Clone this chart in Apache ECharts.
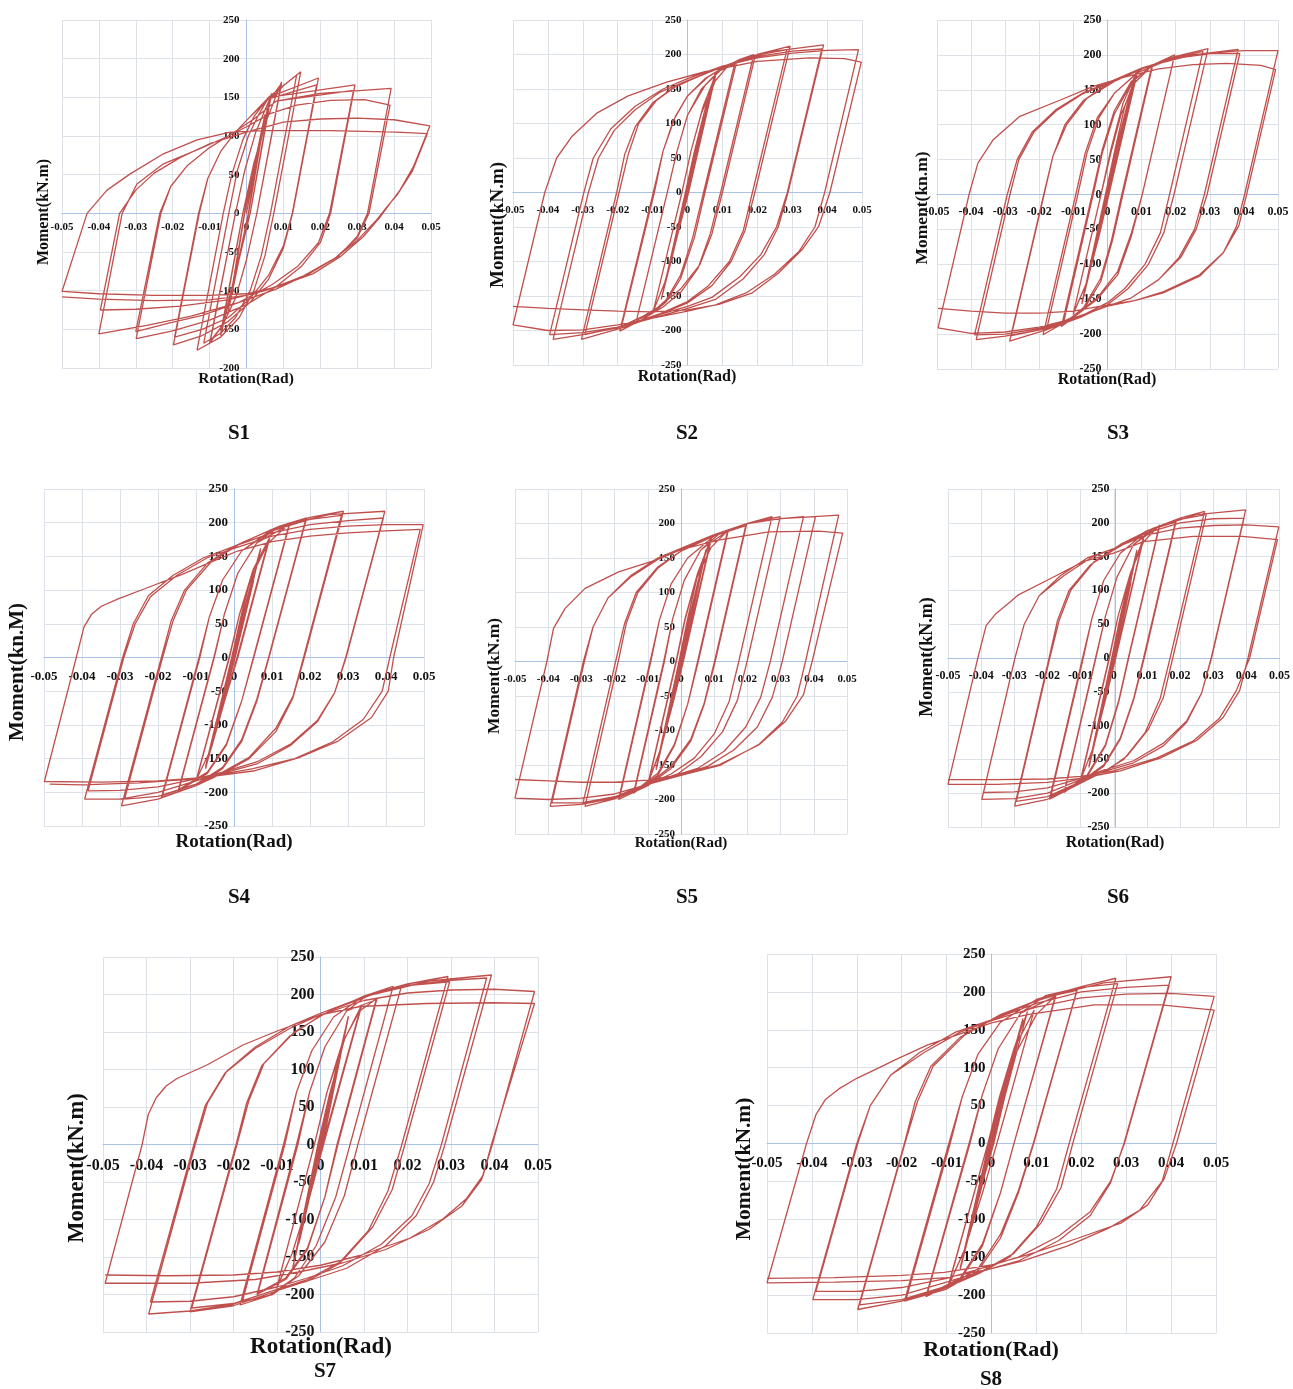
<!DOCTYPE html>
<html><head><meta charset="utf-8">
<script src="https://cdn.jsdelivr.net/npm/echarts@6/dist/echarts.min.js"></script>
<style>html,body{margin:0;padding:0;background:#fff}#c{width:1293px;height:1389px}</style>
</head><body><div id="c"></div>
<script>
// ---------- DATA (rotation in mrad, moment in kN.m), each a continuous test path ----------
const panelNames = ['S1','S2','S3','S4','S5','S6','S7','S8'];
const yAxisNames = ['Moment(kN.m)','Moment(kN.m)','Moment(kn.m)','Moment(kn.M)','Moment(kN.m)','Moment(kN.m)','Moment(kN.m)','Moment(kN.m)'];
const xAxisName = 'Rotation(Rad)';
const yMinValues = [-200,-250,-250,-250,-250,-250,-250,-250];
const xTickRange = [-0.05, 0.05, 0.01];
const yTickMaxStep = [250, 50];

const s1Path = [
0,0, 3.5,90, 0.5,0, -3.5,-90, -0.5,0, 5,125, 0.5,-2, -5,-128, -0.5,2, 5,128, 0.5,-2, -5,-128, -0.5,0, 6.8,155, 1,0, -7,-158, -1,0, 6.5,152, 1,0, -7,-155, -1,0,
2,65, 5,115, 9.5,170, 2.8,0, 0,-60, -3,-110, -6.5,-145, -9.8,-165,
-3,0, -0.5,55, 2.5,105, 6,145, 9.5,168, 2.8,0, 0,-60, -3,-110, -6.5,-145, -10,-168,
-3,0, -0.5,55, 2.5,105, 6,145, 10,165, 14.7,183, 7.4,0, 5,-55, 2,-100, -2,-135, -7,-160, -13.4,-177,
-6.3,0, -4,50, -1,95, 2,125, 6,150, 13.6,179, 6.5,0, 4,-55, 1,-100, -3,-135, -7,-155, -11.6,-168,
-4.8,0, -2.5,55, 0.5,100, 3,125, 6,150, 19.5,175, 12.5,0, 10,-45, 6,-85, 1,-115, -5,-140, -12,-158, -19.8,-170,
-12.8,0, -10.5,45, -7,80, -3,105, 1,125, 6,148, 19,166, 12.4,0, 10,-42, 6,-80, 1,-110, -5,-135, -12,-150, -19.5,-160,
-13,0, -10.5,45, -7,80, -3,105, 1,125, 6,150, 29.4,166, 22.8,0, 20,-38, 15,-68, 8,-95, 0,-118, -10,-138, -20,-152, -29.9,-162,
-23.2,0, -20.5,35, -16,62, -10,85, -4,103, 2,122, 8,145, 29,159, 22.5,0, 19.5,-38, 14,-68, 7,-92, -2,-115, -12,-132, -21,-142, -30,-153,
-23.5,0, -20.5,35, -16,62, -10,85, -4,103, 2,122, 8,145, 20,155, 39.2,161.5, 32.8,0, 30,-30, 25,-55, 17,-78, 8,-98, -2,-115, -15,-133, -27,-145, -40,-156,
-33.7,0, -29.7,38, -22.5,64, -13.4,82, -5.3,99, 0,112, 6.4,129, 13.6,140, 22.7,146, 32,147, 38.9,140, 33.2,0, 30,-32, 24,-58, 15,-82, 5,-100, -5,-112, -18,-120, -30,-124, -39.6,-125,
-34.4,0, -30,30, -25,52, -18,72, -10,90, 0,105, 10,118, 20,122, 30,123, 40,121, 49.7,113, 45.2,60, 41.6,30, 38.9,13, 36.2,-5, 31.7,-30, 25.4,-56, 18.1,-78, 8.2,-95, 0,-104, -10,-106, -25,-106, -40,-104, -50,-101,
-43.2,0, -37.8,30, -31.5,51, -22.5,77, -13.4,95, -4.4,105, 4.6,107, 22.7,107, 40.7,105, 49,103, 45,55, 41,25, 38,8, 35,-10, 30,-35, 24,-58, 17,-78, 8,-95, 0,-106, -10,-112, -25,-113, -40,-111, -50,-108
];

const s2Path = [
0,0, 3.8,80, 0,-2, -3.8,-80, 0,2, 5.2,110, 0.2,-2, -5.2,-108, -0.2,2, 5.2,110, 0,-3, -5.2,-110, -0.5,0, 2,50, 7.5,158, 0.3,0, -2.5,-55, -7.5,-155, -0.6,0, 2,55, 7.5,160, 0.3,0, -2.5,-55, -7.5,-155, -0.6,0,
2,60, 5,120, 8,174, -0.3,0, -3,-65, -6.5,-130, -9.8,-172,
-1.6,0, 1,60, 4.5,125, 8.2,172, 0,0, -3,-65, -6.5,-130, -9.8,-172,
-1.6,0, 1,60, 4,115, 8,162, 11,180, 14,188, 5,0, 2,-65, -2,-125, -6,-158, -10,-175, -14.6,-185,
-5.8,0, -3,60, 0,112, 4,150, 9,176, 13.5,186, 4.6,0, 1.5,-65, -2,-120, -6,-155, -10,-173, -14.6,-185,
-5.8,0, -3,60, 0,112, 5,155, 10,180, 15,193, 19,200, 9.5,0, 6.5,-60, 3,-110, -2,-145, -7,-166, -13,-184, -19.4,-201,
-9.8,0, -7,60, -4,105, 0,140, 6,168, 12,186, 19.2,194, 10,0, 7,-60, 3.5,-105, -2,-140, -8,-165, -13,-180, -18.9,-194,
-9.5,0, -7,60, -3.5,110, 0,140, 5,165, 12,186, 20,200, 29.4,212, 19.3,0, 16.5,-55, 12.5,-100, 7,-135, 0,-160, -8,-177, -18,-195, -30.4,-213,
-20.3,0, -18,55, -15,95, -10,130, -4,152, 3,168, 12,186, 20,199, 28.5,207, 18.6,0, 16,-55, 12,-100, 6,-135, 0,-158, -8,-176, -18,-193, -29.4,-206,
-19.6,0, -17,55, -14,100, -9,133, -3,155, 5,172, 15,192, 25,205, 39,214, 28.8,0, 26,-50, 22,-90, 16,-125, 8,-155, 0,-168, -10,-182, -20,-196, -30,-206, -38.5,-213,
-28.4,0, -25.5,50, -21,90, -15,120, -8,145, 0,162, 10,182, 20,197, 30,205, 38.5,208, 28.6,0, 25.5,-50, 21,-90, 15,-122, 7,-152, 0,-165, -10,-180, -20,-195, -30,-203, -39.5,-206,
-29.7,0, -27,50, -22,92, -15,125, -7,150, 0,165, 10,183, 20,195, 30,202, 40,206, 49,207, 39.3,0, 36.5,-50, 32,-85, 25,-118, 17,-145, 8,-163, 0,-172, -10,-182, -20,-192, -30,-199, -40,-200, -50,-192,
-40.9,0, -37.5,50, -33,82, -26,115, -17,140, -6,160, 5,175, 20,190, 35,195, 45,194, 49.8,189, 40.8,0, 37.6,-49, 32.8,-83, 26,-117, 18.4,-146, 9,-162, 0,-170, -10,-173, -20,-172, -30,-170, -40,-168, -50,-165
];

const s3Path = [
0,0, 3.8,82, 0,-2, -3.8,-80, 0,2, 5.2,112, 0.2,-2, -5.2,-110, -0.2,2, 5.2,112, 0,-3, -5.2,-110, -0.5,0, 2,50, 7.5,160, 0.3,0, -2.5,-55, -7.5,-155, -0.6,0, 2,55, 7.5,162, 0.3,0, -2.5,-55, -7.5,-157, -0.6,0,
2,60, 5,125, 8.9,178, 0.4,0, -2.5,-60, -6,-125, -10.1,-172,
-1.9,0, 1,65, 4.5,130, 8.5,175, 0.2,0, -2.5,-60, -6,-125, -10,-170,
-1.9,0, 1,60, 4,115, 8,160, 13.3,186, 4.5,0, 1.5,-65, -2,-125, -7,-165, -13.5,-189,
-4.5,0, -1.5,65, 2,120, 7,162, 13,184, 4.2,0, 1.2,-65, -2,-120, -7,-162, -13,-186,
-4.2,0, -1.5,60, 2,115, 7,160, 13,185, 19.7,200, 10.2,0, 7,-60, 3,-115, -3,-150, -10,-176, -18.9,-201,
-9.3,0, -6.5,60, -3,110, 2,145, 9,175, 19.5,196, 10.2,0, 7,-55, 3,-110, -3,-148, -10,-175, -17.9,-194,
-8.7,0, -6,60, -2.5,110, 2,145, 10,180, 20,198, 29.5,209, 19.5,0, 16.5,-55, 12,-100, 6,-135, 0,-158, -8,-176, -18,-194, -28.7,-210,
-18.7,0, -16,55, -12.5,100, -7,135, 0,158, 10,180, 20,196, 28,205, 18.2,0, 15.5,-55, 11,-100, 5,-135, 0,-155, -8,-175, -18,-192, -28.2,-202,
-18.6,0, -16,55, -12,100, -6,138, 2,162, 12,184, 25,200, 38.3,208, 28.4,0, 25.5,-50, 21,-90, 15,-122, 7,-148, 0,-160, -10,-178, -20,-194, -30,-203, -38.5,-208,
-28.6,0, -26,50, -21.5,90, -15,120, -7,145, 0,158, 10,180, 20,195, 30,202, 38.8,202, 29.2,0, 26,-50, 21.5,-90, 15,-122, 7,-148, 0,-160, -10,-177, -20,-192, -30,-200, -39,-201,
-29.4,0, -26.5,50, -22,90, -15,122, -7,146, 0,160, 10,181, 20,196, 30,203, 40,206, 50,206, 40.2,0, 37.8,-46, 33.9,-84, 27,-117, 16.3,-141, 8,-152, 0,-160, -10,-178, -20,-190, -30,-197, -40,-199, -49.7,-191,
-40.6,0, -38,45, -33.6,78, -25.7,112, -14,135, -4.2,155, 5,168, 15,180, 25,186, 35,188, 45,185, 49.3,179, 40.8,0, 38.5,-45, 34,-83, 27,-115, 16,-140, 8,-152, 0,-158, -10,-167, -20,-170, -30,-170, -40,-167, -49.7,-163
];

const s4Path = [
0,0, 3.8,85, 0,-2, -3.8,-85, 0,2, 5.2,115, 0.2,-2, -5.2,-115, -0.2,2, 5.2,118, 0,-3, -5.2,-118, -0.5,0, 2,55, 7,160, 0.3,0, -2.5,-60, -7.5,-162, -0.6,0, 2,58, 7,162, 0.3,0, -2.5,-60, -7.5,-165, -0.6,0,
2,65, 5,130, 9.4,177, 1,0, -2.5,-65, -6,-135, -9.9,-181,
-1.3,0, 1.5,65, 5,130, 9.2,176, 0.8,0, -2.5,-65, -6,-135, -9.8,-180,
-1.2,0, 1.5,65, 5,125, 9,170, 14.7,199, 5.2,0, 2,-65, -2,-130, -7,-172, -14.7,-198,
-5.3,0, -2.5,65, 1,125, 6,170, 14.5,197, 5.1,0, 2,-65, -2,-128, -7,-170, -14.5,-196,
-5.2,0, -2.5,65, 1,125, 6,170, 12,195, 19.1,207, 9.2,0, 6,-65, 2,-125, -3,-165, -10,-190, -19.1,-208,
-9.2,0, -6.5,60, -3,115, 2,158, 10,188, 18.8,203, 9.1,0, 6,-62, 2,-122, -3,-163, -10,-188, -18.8,-205,
-9,0, -6.5,60, -3,115, 2,158, 10,190, 20,208, 28.8,217, 18.5,0, 15.5,-60, 11,-110, 4,-150, -3,-172, -10,-190, -20,-210, -29.6,-220,
-19.1,0, -16.5,55, -13,100, -7,140, 0,165, 10,190, 20,205, 28.3,211, 18.3,0, 15.5,-58, 11,-105, 4,-148, -3,-170, -10,-188, -20,-206, -28.8,-210,
-18.8,0, -16,55, -12.5,100, -6,142, 2,170, 12,195, 25,212, 39.7,217, 29.4,0, 26.5,-52, 22,-95, 15,-130, 6,-158, -3,-172, -10,-183, -20,-200, -30,-210, -39.3,-210,
-29.3,0, -26.5,50, -22.5,92, -16,122, -8,148, 0,165, 10,185, 20,197, 30,203, 39.3,207, 29.5,0, 26.5,-52, 22,-93, 15,-128, 6,-155, -3,-170, -10,-180, -20,-192, -30,-197, -38.4,-198,
-29,0, -26,50, -22,90, -15,122, -7,148, 0,162, 10,180, 20,190, 30,195, 40,197, 49.8,197, 42,0, 40.6,-50, 36.2,-89, 27.4,-124, 16.9,-149, 5.5,-168, -7.7,-178, -20,-183, -35,-185, -49.9,-184,
-41.5,0, -39.5,45, -37.5,64, -34.9,76, -30.5,87, -23.5,102, -13.8,123, -5.9,142, 1,158, 10,172, 20,180, 30,185, 40,188, 49,190, 41,0, 39,-50, 34,-92, 26,-125, 16,-150, 5,-165, -10,-180, -25,-186, -40,-189, -48.5,-188
];

const s5Path = [
0,0, 3.8,80, 0,-2, -3.8,-80, 0,2, 5.2,110, 0.2,-2, -5.2,-108, -0.2,2, 5.2,112, 0,-3, -5.2,-110, -0.5,0, 2,52, 7.5,160, 0.3,0, -2.5,-55, -7.5,-155, -0.6,0, 2,55, 7.5,162, 0.3,0, -2.5,-55, -7.5,-157, -0.6,0,
2,62, 5,125, 9.3,181, 0.7,0, -2.5,-62, -6,-125, -9.8,-174,
-1.5,0, 1.2,62, 5,128, 9,178, 0.5,0, -2.5,-62, -6,-125, -9.6,-172,
-1.4,0, 1.2,60, 4.5,118, 9,165, 14.3,191, 5.2,0, 2,-62, -2,-122, -7,-165, -14.3,-191,
-5.2,0, -2.5,62, 1,118, 6,162, 14,189, 5,0, 2,-62, -2,-120, -7,-162, -14,-188,
-5,0, -2.5,62, 1,118, 6,162, 12,187, 19.8,200, 10.3,0, 7,-62, 3,-115, -3,-155, -10,-180, -18.8,-200,
-9.3,0, -6.5,60, -3,112, 2,150, 10,182, 19.5,197, 10.1,0, 7,-60, 3,-112, -3,-152, -10,-178, -18.5,-197,
-9.1,0, -6.5,60, -3,112, 2,150, 10,182, 20,200, 27.4,210, 17.4,0, 14.5,-58, 10,-105, 4,-140, -3,-163, -10,-178, -20,-199, -28.9,-210,
-18.9,0, -16.5,55, -13,100, -7,135, 0,160, 10,182, 20,200, 29.9,210, 19.9,0, 17,-56, 12.5,-102, 6,-138, -1,-163, -10,-178, -20,-196, -29.5,-205,
-19.7,0, -17,55, -13.5,100, -7,137, 0,160, 10,182, 20,200, 30,207, 36.9,210, 26.9,0, 24,-52, 19.5,-95, 13,-130, 5,-155, -3,-167, -10,-178, -20,-198, -30,-207, -39.4,-210,
-29.4,0, -26.5,50, -22,92, -15,123, -7,148, 0,162, 10,182, 20,200, 30,207, 40.5,210, 30.5,0, 27.5,-52, 23,-95, 16,-128, 8,-152, 0,-164, -10,-177, -20,-196, -30,-205, -38.9,-205,
-29.1,0, -26.5,50, -22,92, -15,125, -7,150, 0,164, 10,184, 20,200, 30,207, 40,210, 47.5,212, 37.5,0, 35,-50, 30.5,-88, 23.5,-120, 12,-150, 0,-165, -10,-178, -20,-192, -30,-198, -40,-200, -50,-198,
-40.4,0, -38.4,48, -34.9,77, -28.9,106, -18.8,130, -8.8,145, 0,162, 11.3,176, 26.4,188, 41.5,189, 48.7,186, 39.5,0, 36.9,-48, 31.4,-87, 23.4,-121, 11.3,-150, 0,-164, -10,-172, -20,-175, -30,-175, -40,-173, -50,-171
];

const s6Path = [
0,0, 3.8,82, 0,-2, -3.8,-82, 0,2, 5.2,112, 0.2,-2, -5.2,-112, -0.2,2, 5.2,115, 0,-3, -5.2,-115, -0.5,0, 2,55, 7,158, 0.3,0, -2.5,-58, -7.5,-160, -0.6,0, 2,58, 7,160, 0.3,0, -2.5,-58, -7.5,-162, -0.6,0,
2,62, 5,125, 9,177, 0.6,0, -2.5,-62, -6,-130, -10,-180,
-1.4,0, 1.3,62, 5,125, 8.8,175, 0.5,0, -2.5,-62, -6,-130, -9.8,-178,
-1.3,0, 1.3,62, 5,125, 9,172, 13.9,197, 4.5,0, 1.5,-65, -2.5,-130, -8,-175, -15,-199,
-5.5,0, -2.5,62, 1,120, 6,168, 13.7,195, 4.4,0, 1.5,-63, -2.5,-128, -8,-173, -14.8,-197,
-5.4,0, -2.5,62, 1,120, 6,168, 12,192, 18.9,204, 9.2,0, 6,-62, 2,-120, -3,-160, -10,-185, -19.4,-209,
-9.4,0, -6.5,60, -3,115, 2,155, 10,188, 18.6,201, 9,0, 6,-60, 2,-118, -3,-158, -10,-183, -19,-205,
-9.2,0, -6.5,60, -3,115, 2,155, 10,188, 20,207, 27.4,217, 17,0, 14,-60, 9.5,-110, 3,-150, -3,-168, -10,-185, -20,-209, -29.9,-219,
-19.5,0, -17,55, -13.5,100, -7,138, 0,160, 10,188, 20,205, 27.9,212, 17.8,0, 15,-58, 10.5,-105, 4,-145, -2,-166, -10,-183, -20,-205, -29.4,-212,
-19.3,0, -16.5,55, -13,100, -6,142, 2,168, 12,192, 25,212, 39.8,219, 29.4,0, 26.5,-52, 22,-95, 15,-130, 6,-155, -3,-168, -10,-180, -20,-200, -30,-208, -39.8,-209,
-29.8,0, -27,50, -22.5,92, -16,122, -8,148, 0,162, 10,185, 20,200, 30,206, 39.3,207, 29.5,0, 26.5,-52, 22,-93, 15,-126, 6,-152, -3,-166, -10,-178, -20,-192, -30,-198, -39.3,-199,
-29.8,0, -27,50, -22.5,92, -15,122, -7,148, 0,162, 10,182, 20,192, 30,196, 40,197, 49.8,194, 40.5,0, 38,-48, 33,-88, 25,-122, 14,-148, 2,-167, -10,-178, -20,-184, -35,-187, -50,-187,
-41,0, -38.5,48, -35.5,66, -32,80, -28.9,93, -18.9,118, -9,143, 0,155, 9,172, 23.9,180, 38.8,180, 49.4,175, 41,0, 36.9,-49, 31.9,-89, 23.9,-123, 12.9,-148, 0,-167, -10,-175, -20,-179, -35,-180, -50,-180
];

const s7Path = [
0,0, 3.5,95, 0,-2, -3.5,-95, 0,2, 4.8,128, 0.2,-2, -4.8,-128, -0.2,2, 4.8,130, 0,-3, -5,-132, -0.5,0, 2,60, 6.4,171, 0.5,0, -2.5,-65, -6.5,-168, -0.6,0, 2,62, 6.4,170, 0.5,0, -2.5,-65, -6.5,-168, -0.6,0,
2,65, 5.5,140, 9.5,186, 0.7,0, -2.5,-70, -6.5,-145, -10.1,-192,
-1.4,0, 1.5,70, 5.5,140, 9.3,184, 0.5,0, -2.5,-70, -6.5,-145, -10,-190,
-1.4,0, 1.5,70, 5,135, 9,178, 13,195, 4,0, 1,-70, -3,-140, -8,-180, -14.6,-200,
-5.5,0, -2.5,70, 1,130, 6,178, 12.8,193, 3.8,0, 1,-70, -3,-138, -8,-178, -14.4,-198,
-5.2,0, -2.5,70, 1,130, 6,178, 11,200, 16.7,211, 6.8,0, 3.5,-70, -1,-135, -6,-178, -12,-202, -18.5,-214,
-8.5,0, -5.5,70, -2,125, 3,170, 10,198, 18.5,209, 8.6,0, 5.5,-68, 1,-130, -5,-175, -11,-200, -18,-210,
-8.2,0, -5.5,70, -2,125, 3,170, 10,198, 20,214, 29.3,224, 18.7,0, 15.5,-62, 11,-115, 4,-160, -3,-182, -10,-195, -20,-215, -30,-223,
-19.4,0, -17,55, -13.5,105, -7,145, 0,172, 10,198, 20,212, 29.7,217, 19.4,0, 16.5,-60, 12,-110, 5,-155, -3,-180, -10,-193, -20,-212, -29.6,-218,
-19.2,0, -16.5,58, -13,108, -6,150, 2,178, 12,200, 25,218, 39.3,226, 28.6,0, 26,-50, 22,-95, 15,-135, 6,-165, -3,-182, -10,-193, -20,-213, -30,-222, -39.5,-226,
-28.8,0, -26,55, -21.5,98, -15,130, -7,158, 0,175, 10,197, 20,212, 30,219, 38.2,222, 27.8,0, 25,-52, 21,-95, 14,-133, 5,-162, -3,-178, -10,-190, -20,-203, -30,-209, -39.1,-210,
-29.1,0, -26.5,52, -22,95, -15,128, -7,155, 0,173, 10,192, 20,202, 30,206, 40,207, 49.2,204, 39.5,0, 37,-47, 32.5,-82, 25,-113, 15,-140, 5,-158, -5,-170, -15,-180, -30,-185, -49.5,-185,
-41,0, -39.6,40, -37.8,62, -35.5,78, -33,88, -26.1,106, -17.7,133, -10.1,151, 0,173, 9.1,184, 24.4,188, 39.7,189, 49.2,188, 39.3,0, 37.4,-41, 33.6,-72, 28.2,-99, 20.5,-125, 9.1,-148, 0,-161, -10,-170, -20,-174, -35,-175, -49.5,-174
];

const s8Path = [
0,0, 3.5,85, 0,-2, -3.5,-88, 0,2, 5,118, 0.2,-2, -5,-120, -0.2,2, 5,120, 0,-3, -5,-122, -0.5,0, 2,55, 7,163, 0.5,0, -2.5,-62, -7,-165, -0.6,0, 2,58, 7,165, 0.5,0, -2.5,-62, -7,-167, -0.6,0,
2,62, 5,125, 9.5,176, 1.2,0, -2,-65, -6,-140, -9.8,-191,
-0.8,0, 1.8,62, 5,125, 8,174, 0.2,0, -2.5,-65, -6,-140, -9.6,-188,
-0.8,0, 2,62, 5.5,120, 10,170, 14.4,196, 5,0, 2,-65, -2,-135, -7,-180, -14.6,-202,
-5,0, -2,65, 1.5,125, 6.5,172, 14.2,194, 5,0, 2,-65, -2,-132, -7,-178, -14.4,-200,
-4.8,0, -2,65, 1.5,125, 6.5,172, 12,195, 19.2,205, 9.4,0, 6,-65, 2,-125, -3,-168, -10,-192, -19.4,-208,
-9.5,0, -6.5,62, -3,118, 2,160, 10,190, 19,202, 9.3,0, 6,-62, 2,-120, -3,-165, -10,-190, -19,-205,
-9.2,0, -6.5,62, -3,118, 2,160, 10,190, 20,207, 27.7,218, 17.3,0, 14.5,-60, 10,-110, 4,-150, -3,-172, -10,-190, -20,-208, -29.8,-219,
-19.4,0, -17,55, -13.5,102, -7,140, 0,163, 10,188, 20,206, 28.1,211, 18.1,0, 15.5,-58, 11,-105, 5,-145, -2,-168, -10,-188, -20,-206, -29.4,-213,
-19.3,0, -16.5,55, -13,102, -6,143, 2,170, 12,193, 25,212, 40,220, 29.5,0, 26.5,-52, 22,-95, 15,-128, 6,-155, -3,-170, -10,-183, -20,-200, -30,-206, -39.8,-206,
-30,0, -27,50, -22.5,90, -16,120, -8,147, 0,163, 10,185, 20,200, 30,206, 39.6,209, 29.6,0, 26.5,-50, 22,-90, 15,-122, 6,-150, -3,-166, -10,-178, -20,-190, -30,-195, -39.1,-195,
-29.8,0, -27,50, -22.5,90, -15,120, -7,147, 0,162, 10,180, 20,192, 30,197, 40,198, 49.6,194, 40.4,0, 38,-50, 33,-88, 26,-112, 17,-135, 7,-155, 0,-165, -10,-177, -20,-181, -35,-183, -50,-184,
-41.2,0, -39.1,38, -37,58, -34,72, -30,86, -25,100, -21.6,110, -14.2,130, -6.8,145, 0,159, 8,170, 22.9,183, 37.8,183, 49.6,176, 41.2,0, 38.5,-46, 34.8,-81, 28.8,-105, 19.2,-125, 8,-147, 0,-160, -10.5,-170, -20,-174, -35,-177, -50,-178
];

const panelPaths = [s1Path, s2Path, s3Path, s4Path, s5Path, s6Path, s7Path, s8Path];

// ---------- LAYOUT (pixels, font sizes) ----------
const layout = [
  {g:[62,20,369,348],  tf:11, xm:8,  ym:7, xn:[246,379,15.5], yn:[44,212,16],   t:[239,434]},
  {g:[513,20,349,345], tf:11, xm:12, ym:6, xn:[687,377,16],   yn:[498,225,19],  t:[687,434]},
  {g:[937,20,341,349], tf:12, xm:11, ym:6, xn:[1107,380,16],  yn:[922,208,17.5],t:[1118,434]},
  {g:[44,489,380,337], tf:13, xm:13, ym:6, xn:[234,842,19],   yn:[18,672,21],   t:[239,898]},
  {g:[515,489,332,345],tf:11, xm:12, ym:6, xn:[681,843,15],   yn:[494,676,17.5],t:[687,898]},
  {g:[948,489,335,338],tf:12, xm:12, ym:6, xn:[1115,843,16],  yn:[927,657,18],  t:[1118,898]},
  {g:[103,957,435,375],tf:16, xm:13, ym:6, xn:[321,1347,23],  yn:[77,1168,22.5],t:[325,1372]},
  {g:[767,954,449,379],tf:15, xm:12, ym:6, xn:[991,1350,22],  yn:[744,1169,21.5],t:[991,1380]}
];

const FONT = '"Times New Roman","Liberation Serif",serif';
const LINE_COLOR = '#c0504d';
const GRID_COLOR = '#dde2e8';
const AXIS_COLOR = '#a9c1e2';

function toPairs(flat){
  const out = [];
  for (let i = 0; i + 1 < flat.length; i += 2) out.push([flat[i] / 1000, flat[i + 1]]);
  return out;
}
function txt(x, y, s, size, rot){
  return {type:'text', x:x, y:y, rotation: rot || 0, silent:true, z:10,
    style:{text:s, fill:'#111', font:'bold ' + size + 'px ' + FONT,
      fontSize:size, fontWeight:'bold', fontFamily:FONT,
      align:'center', verticalAlign:'middle', textAlign:'center', textVerticalAlign:'middle'}};
}

const grids = [], xAxes = [], yAxes = [], series = [], graphics = [];
layout.forEach((L, i) => {
  const W = L.g[2], H = L.g[3];
  const ymin = yMinValues[i], ymax = yTickMaxStep[0];
  const zeroFromBottom = H * (0 - ymin) / (ymax - ymin);
  const zeroFromLeft = W * (0 - xTickRange[0]) / (xTickRange[1] - xTickRange[0]);
  grids.push({left:L.g[0], top:L.g[1], width:W, height:H, containLabel:false});
  const lbl = {fontFamily:FONT, fontWeight:'bold', fontSize:L.tf, color:'#111', showMinLabel:true, showMaxLabel:true};
  xAxes.push({type:'value', gridIndex:i, position:'bottom', offset:-zeroFromBottom,
    min:xTickRange[0], max:xTickRange[1], interval:xTickRange[2],
    axisLine:{show:true, onZero:false, lineStyle:{color:AXIS_COLOR, width:1}},
    axisTick:{show:false},
    axisLabel:Object.assign({margin:L.xm, formatter:v => String(Math.round(v * 100) / 100)}, lbl),
    splitLine:{show:true, lineStyle:{color:GRID_COLOR, width:1}}});
  yAxes.push({type:'value', gridIndex:i, position:'left', offset:-zeroFromLeft,
    min:ymin, max:ymax, interval:yTickMaxStep[1],
    axisLine:{show:true, onZero:false, lineStyle:{color:AXIS_COLOR, width:1}},
    axisTick:{show:false},
    axisLabel:Object.assign({margin:L.ym, formatter:v => String(Math.round(v))}, lbl),
    splitLine:{show:true, lineStyle:{color:GRID_COLOR, width:1}}});
  series.push({type:'line', name:panelNames[i], xAxisIndex:i, yAxisIndex:i, data:toPairs(panelPaths[i]),
    showSymbol:false, symbol:'none', smooth:false, silent:true,
    lineStyle:{color:LINE_COLOR, width:1.3}, z:3});
  graphics.push(txt(L.xn[0], L.xn[1], xAxisName, L.xn[2]));
  graphics.push(txt(L.yn[0], L.yn[1], yAxisNames[i], L.yn[2], Math.PI / 2));
  graphics.push(txt(L.t[0], L.t[1], panelNames[i], 21));
});

const chart = echarts.init(document.getElementById('c'), null, {renderer:'canvas'});
chart.setOption({
  backgroundColor:'#ffffff',
  animation:false,
  grid:grids, xAxis:xAxes, yAxis:yAxes, series:series,
  graphic:{elements:graphics}
});
</script>
</body></html>
